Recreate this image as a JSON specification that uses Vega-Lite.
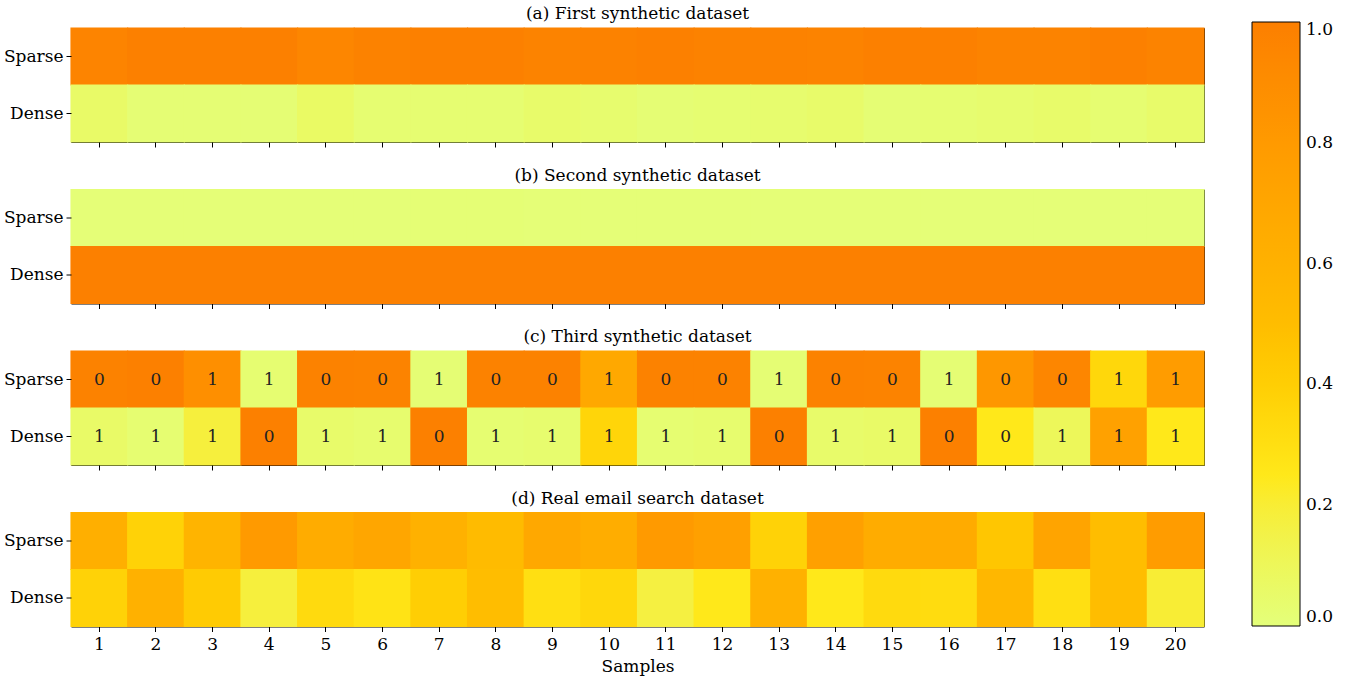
{
  "$schema": "https://vega.github.io/schema/vega-lite/v6.json",
  "padding": {"left": 2, "top": 4, "right": 5, "bottom": 5},
  "datasets": {
    "all": [
      {"p":"a","s":1,"m":"Sparse","v":0.96},{"p":"a","s":2,"m":"Sparse","v":0.99},{"p":"a","s":3,"m":"Sparse","v":0.99},{"p":"a","s":4,"m":"Sparse","v":0.99},{"p":"a","s":5,"m":"Sparse","v":0.95},{"p":"a","s":6,"m":"Sparse","v":0.98},{"p":"a","s":7,"m":"Sparse","v":0.99},{"p":"a","s":8,"m":"Sparse","v":0.99},{"p":"a","s":9,"m":"Sparse","v":0.97},{"p":"a","s":10,"m":"Sparse","v":0.98},{"p":"a","s":11,"m":"Sparse","v":0.99},{"p":"a","s":12,"m":"Sparse","v":0.98},{"p":"a","s":13,"m":"Sparse","v":0.98},{"p":"a","s":14,"m":"Sparse","v":0.97},{"p":"a","s":15,"m":"Sparse","v":0.99},{"p":"a","s":16,"m":"Sparse","v":0.99},{"p":"a","s":17,"m":"Sparse","v":0.97},{"p":"a","s":18,"m":"Sparse","v":0.97},{"p":"a","s":19,"m":"Sparse","v":0.99},{"p":"a","s":20,"m":"Sparse","v":0.97},
      {"p":"a","s":1,"m":"Dense","v":0.06},{"p":"a","s":2,"m":"Dense","v":0.02},{"p":"a","s":3,"m":"Dense","v":0.02},{"p":"a","s":4,"m":"Dense","v":0.02},{"p":"a","s":5,"m":"Dense","v":0.07},{"p":"a","s":6,"m":"Dense","v":0.03},{"p":"a","s":7,"m":"Dense","v":0.03},{"p":"a","s":8,"m":"Dense","v":0.03},{"p":"a","s":9,"m":"Dense","v":0.05},{"p":"a","s":10,"m":"Dense","v":0.04},{"p":"a","s":11,"m":"Dense","v":0.02},{"p":"a","s":12,"m":"Dense","v":0.03},{"p":"a","s":13,"m":"Dense","v":0.04},{"p":"a","s":14,"m":"Dense","v":0.05},{"p":"a","s":15,"m":"Dense","v":0.02},{"p":"a","s":16,"m":"Dense","v":0.03},{"p":"a","s":17,"m":"Dense","v":0.04},{"p":"a","s":18,"m":"Dense","v":0.05},{"p":"a","s":19,"m":"Dense","v":0.03},{"p":"a","s":20,"m":"Dense","v":0.05},
      {"p":"b","s":1,"m":"Sparse","v":0.01},{"p":"b","s":2,"m":"Sparse","v":0.01},{"p":"b","s":3,"m":"Sparse","v":0.01},{"p":"b","s":4,"m":"Sparse","v":0.01},{"p":"b","s":5,"m":"Sparse","v":0.01},{"p":"b","s":6,"m":"Sparse","v":0.01},{"p":"b","s":7,"m":"Sparse","v":0.015},{"p":"b","s":8,"m":"Sparse","v":0.015},{"p":"b","s":9,"m":"Sparse","v":0.01},{"p":"b","s":10,"m":"Sparse","v":0.01},{"p":"b","s":11,"m":"Sparse","v":0.01},{"p":"b","s":12,"m":"Sparse","v":0.01},{"p":"b","s":13,"m":"Sparse","v":0.01},{"p":"b","s":14,"m":"Sparse","v":0.01},{"p":"b","s":15,"m":"Sparse","v":0.01},{"p":"b","s":16,"m":"Sparse","v":0.01},{"p":"b","s":17,"m":"Sparse","v":0.01},{"p":"b","s":18,"m":"Sparse","v":0.01},{"p":"b","s":19,"m":"Sparse","v":0.01},{"p":"b","s":20,"m":"Sparse","v":0.01},
      {"p":"b","s":1,"m":"Dense","v":0.99},{"p":"b","s":2,"m":"Dense","v":0.99},{"p":"b","s":3,"m":"Dense","v":0.99},{"p":"b","s":4,"m":"Dense","v":0.99},{"p":"b","s":5,"m":"Dense","v":0.99},{"p":"b","s":6,"m":"Dense","v":0.99},{"p":"b","s":7,"m":"Dense","v":0.99},{"p":"b","s":8,"m":"Dense","v":0.99},{"p":"b","s":9,"m":"Dense","v":0.99},{"p":"b","s":10,"m":"Dense","v":0.99},{"p":"b","s":11,"m":"Dense","v":0.99},{"p":"b","s":12,"m":"Dense","v":0.99},{"p":"b","s":13,"m":"Dense","v":0.99},{"p":"b","s":14,"m":"Dense","v":0.99},{"p":"b","s":15,"m":"Dense","v":0.99},{"p":"b","s":16,"m":"Dense","v":0.99},{"p":"b","s":17,"m":"Dense","v":0.99},{"p":"b","s":18,"m":"Dense","v":0.99},{"p":"b","s":19,"m":"Dense","v":0.99},{"p":"b","s":20,"m":"Dense","v":0.99},
      {"p":"c","s":1,"m":"Sparse","v":0.98,"t":"0"},{"p":"c","s":2,"m":"Sparse","v":0.99,"t":"0"},{"p":"c","s":3,"m":"Sparse","v":0.88,"t":"1"},{"p":"c","s":4,"m":"Sparse","v":0.03,"t":"1"},{"p":"c","s":5,"m":"Sparse","v":0.98,"t":"0"},{"p":"c","s":6,"m":"Sparse","v":0.97,"t":"0"},{"p":"c","s":7,"m":"Sparse","v":0.02,"t":"1"},{"p":"c","s":8,"m":"Sparse","v":0.98,"t":"0"},{"p":"c","s":9,"m":"Sparse","v":0.98,"t":"0"},{"p":"c","s":10,"m":"Sparse","v":0.68,"t":"1"},{"p":"c","s":11,"m":"Sparse","v":0.98,"t":"0"},{"p":"c","s":12,"m":"Sparse","v":0.98,"t":"0"},{"p":"c","s":13,"m":"Sparse","v":0.02,"t":"1"},{"p":"c","s":14,"m":"Sparse","v":0.98,"t":"0"},{"p":"c","s":15,"m":"Sparse","v":0.97,"t":"0"},{"p":"c","s":16,"m":"Sparse","v":0.02,"t":"1"},{"p":"c","s":17,"m":"Sparse","v":0.82,"t":"0"},{"p":"c","s":18,"m":"Sparse","v":0.95,"t":"0"},{"p":"c","s":19,"m":"Sparse","v":0.35,"t":"1"},{"p":"c","s":20,"m":"Sparse","v":0.78,"t":"1"},
      {"p":"c","s":1,"m":"Dense","v":0.06,"t":"1"},{"p":"c","s":2,"m":"Dense","v":0.03,"t":"1"},{"p":"c","s":3,"m":"Dense","v":0.18,"t":"1"},{"p":"c","s":4,"m":"Dense","v":0.99,"t":"0"},{"p":"c","s":5,"m":"Dense","v":0.05,"t":"1"},{"p":"c","s":6,"m":"Dense","v":0.04,"t":"1"},{"p":"c","s":7,"m":"Dense","v":0.99,"t":"0"},{"p":"c","s":8,"m":"Dense","v":0.03,"t":"1"},{"p":"c","s":9,"m":"Dense","v":0.04,"t":"1"},{"p":"c","s":10,"m":"Dense","v":0.36,"t":"1"},{"p":"c","s":11,"m":"Dense","v":0.03,"t":"1"},{"p":"c","s":12,"m":"Dense","v":0.04,"t":"1"},{"p":"c","s":13,"m":"Dense","v":0.99,"t":"0"},{"p":"c","s":14,"m":"Dense","v":0.05,"t":"1"},{"p":"c","s":15,"m":"Dense","v":0.06,"t":"1"},{"p":"c","s":16,"m":"Dense","v":0.99,"t":"0"},{"p":"c","s":17,"m":"Dense","v":0.25,"t":"0"},{"p":"c","s":18,"m":"Dense","v":0.1,"t":"1"},{"p":"c","s":19,"m":"Dense","v":0.74,"t":"1"},{"p":"c","s":20,"m":"Dense","v":0.25,"t":"1"},
      {"p":"d","s":1,"m":"Sparse","v":0.62},{"p":"d","s":2,"m":"Sparse","v":0.38},{"p":"d","s":3,"m":"Sparse","v":0.58},{"p":"d","s":4,"m":"Sparse","v":0.8},{"p":"d","s":5,"m":"Sparse","v":0.65},{"p":"d","s":6,"m":"Sparse","v":0.7},{"p":"d","s":7,"m":"Sparse","v":0.6},{"p":"d","s":8,"m":"Sparse","v":0.52},{"p":"d","s":9,"m":"Sparse","v":0.68},{"p":"d","s":10,"m":"Sparse","v":0.64},{"p":"d","s":11,"m":"Sparse","v":0.8},{"p":"d","s":12,"m":"Sparse","v":0.75},{"p":"d","s":13,"m":"Sparse","v":0.38},{"p":"d","s":14,"m":"Sparse","v":0.75},{"p":"d","s":15,"m":"Sparse","v":0.65},{"p":"d","s":16,"m":"Sparse","v":0.66},{"p":"d","s":17,"m":"Sparse","v":0.45},{"p":"d","s":18,"m":"Sparse","v":0.72},{"p":"d","s":19,"m":"Sparse","v":0.5},{"p":"d","s":20,"m":"Sparse","v":0.78},
      {"p":"d","s":1,"m":"Dense","v":0.38},{"p":"d","s":2,"m":"Dense","v":0.6},{"p":"d","s":3,"m":"Dense","v":0.42},{"p":"d","s":4,"m":"Dense","v":0.18},{"p":"d","s":5,"m":"Dense","v":0.33},{"p":"d","s":6,"m":"Dense","v":0.28},{"p":"d","s":7,"m":"Dense","v":0.4},{"p":"d","s":8,"m":"Dense","v":0.5},{"p":"d","s":9,"m":"Dense","v":0.3},{"p":"d","s":10,"m":"Dense","v":0.35},{"p":"d","s":11,"m":"Dense","v":0.17},{"p":"d","s":12,"m":"Dense","v":0.25},{"p":"d","s":13,"m":"Dense","v":0.6},{"p":"d","s":14,"m":"Dense","v":0.25},{"p":"d","s":15,"m":"Dense","v":0.33},{"p":"d","s":16,"m":"Dense","v":0.32},{"p":"d","s":17,"m":"Dense","v":0.55},{"p":"d","s":18,"m":"Dense","v":0.3},{"p":"d","s":19,"m":"Dense","v":0.5},{"p":"d","s":20,"m":"Dense","v":0.2}
    ]
  },
  "data": {"name": "all"},
  "spacing": 17.5,
  "resolve": {"scale": {"color": "shared"}},
  "vconcat": [
    {
      "title": {"text": "(a) First synthetic dataset"},
      "width": 1133, "height": 114,
      "transform": [{"filter": "datum.p === 'a'"}],
      "mark": {"type": "rect", "width": {"band": 1.02}, "height": {"band": 1.02}},
      "encoding": {
        "x": {"field": "s", "type": "ordinal", "scale": {"paddingInner": 0, "paddingOuter": 0}, "axis": {"labels": false, "title": null}},
        "y": {"field": "m", "type": "nominal", "sort": ["Sparse", "Dense"], "scale": {"paddingInner": 0, "paddingOuter": 0}, "axis": {"title": null}},
        "color": {"field": "v", "type": "quantitative", "scale": {"domain": [0, 0.25, 0.5, 0.75, 1], "range": ["#e4ff7a", "#ffe81a", "#ffbd00", "#ffa000", "#fc7f00"]},
          "legend": {"type": "gradient", "title": null, "orient": "right", "offset": 52, "gradientLength": 604, "gradientThickness": 48, "values": [0, 0.2, 0.4, 0.6, 0.8, 1], "format": ".1f", "labelFontSize": 17, "labelColor": "black", "gradientStrokeColor": "black", "gradientStrokeWidth": 1, "labelOffset": 6, "padding": -6}}
      }
    },
    {
      "title": {"text": "(b) Second synthetic dataset"},
      "width": 1133, "height": 114,
      "transform": [{"filter": "datum.p === 'b'"}],
      "mark": {"type": "rect", "width": {"band": 1.02}, "height": {"band": 1.02}},
      "encoding": {
        "x": {"field": "s", "type": "ordinal", "scale": {"paddingInner": 0, "paddingOuter": 0}, "axis": {"labels": false, "title": null}},
        "y": {"field": "m", "type": "nominal", "sort": ["Sparse", "Dense"], "scale": {"paddingInner": 0, "paddingOuter": 0}, "axis": {"title": null}},
        "color": {"field": "v", "type": "quantitative"}
      }
    },
    {
      "title": {"text": "(c) Third synthetic dataset"},
      "width": 1133, "height": 114,
      "transform": [{"filter": "datum.p === 'c'"}],
      "encoding": {
        "x": {"field": "s", "type": "ordinal", "scale": {"paddingInner": 0, "paddingOuter": 0}, "axis": {"labels": false, "title": null}},
        "y": {"field": "m", "type": "nominal", "sort": ["Sparse", "Dense"], "scale": {"paddingInner": 0, "paddingOuter": 0}, "axis": {"title": null}}
      },
      "layer": [
        {"mark": {"type": "rect", "width": {"band": 1.02}, "height": {"band": 1.02}}, "encoding": {"color": {"field": "v", "type": "quantitative"}}},
        {"mark": {"type": "text", "fontSize": 17, "color": "#222222", "baseline": "middle"}, "encoding": {"text": {"field": "t"}}}
      ]
    },
    {
      "title": {"text": "(d) Real email search dataset"},
      "width": 1133, "height": 114,
      "transform": [{"filter": "datum.p === 'd'"}],
      "mark": {"type": "rect", "width": {"band": 1.02}, "height": {"band": 1.02}},
      "encoding": {
        "x": {"field": "s", "type": "ordinal", "scale": {"paddingInner": 0, "paddingOuter": 0}, "axis": {"labelAngle": 0, "title": "Samples", "labelPadding": 5}},
        "y": {"field": "m", "type": "nominal", "sort": ["Sparse", "Dense"], "scale": {"paddingInner": 0, "paddingOuter": 0}, "axis": {"title": null}},
        "color": {"field": "v", "type": "quantitative"}
      }
    }
  ],
  "config": {
    "font": "DejaVu Serif",
    "view": {"stroke": "black", "strokeWidth": 1},
    "title": {"fontSize": 17, "fontWeight": "normal", "color": "black", "offset": 4},
    "axis": {"labelFontSize": 17, "titleFontSize": 17, "titleFontWeight": "normal", "labelColor": "black", "titleColor": "black", "tickColor": "black", "domain": false, "grid": false, "tickSize": 5, "labelPadding": 3, "titlePadding": 6},
    "legend": {"labelFont": "DejaVu Serif"}
  }
}
